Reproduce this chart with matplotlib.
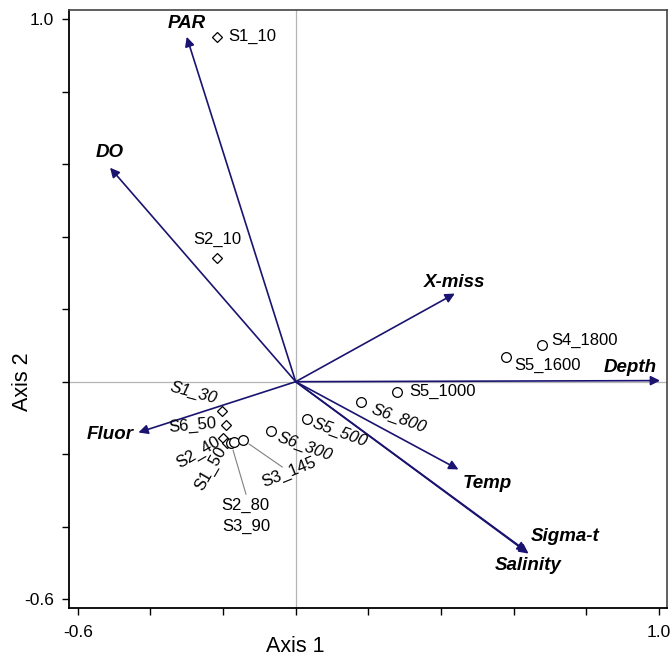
import matplotlib
matplotlib.use("Agg")
import matplotlib.pyplot as plt

plt.rcParams['font.family'] = ['Liberation Sans', 'DejaVu Sans']

# ---- data ----
site_names = ["S1_10", "S2_10", "S1_30", "S6_50", "S2_40", "S1_50", "S2_80", "S3_90",
              "S3_145", "S6_300", "S5_500", "S6_800", "S5_1000", "S5_1600", "S4_1800"]
site_x = [-0.216, -0.216, -0.203, -0.192, -0.200, -0.189, -0.178, -0.170,
          -0.144, -0.069, 0.030, 0.180, 0.280, 0.578, 0.677]
site_y = [0.951, 0.341, -0.080, -0.120, -0.154, -0.170, -0.170, -0.167,
          -0.161, -0.136, -0.104, -0.057, -0.028, 0.068, 0.101]
site_kind = ["D", "D", "D", "D", "D", "D", "o", "o",
             "o", "o", "o", "o", "o", "o", "o"]

var_names = ["PAR", "DO", "X-miss", "Depth", "Temp", "Sigma-t", "Salinity", "Fluor"]
var_x = [-0.300, -0.511, 0.438, 1.003, 0.448, 0.636, 0.641, -0.433]
var_y = [0.951, 0.590, 0.243, 0.003, -0.242, -0.468, -0.474, -0.140]

tick_vals = [-0.6, -0.4, -0.2, 0.0, 0.2, 0.4, 0.6, 0.8, 1.0]

# ---- label layout (pixel offsets, rotation, italic) ----
site_label_style = {
    "S1_10": (35, 0, 0, False), "S2_10": (0, 19, 0, False), "S1_30": (-28, 18, -15, True),
    "S6_50": (-33, 0, 5, False), "S2_40": (-25, -15, 30, False), "S1_50": (-16, -25, 60, False),
    "S2_80": (14, -62, 0, False), "S3_90": (12, -84, 0, False), "S3_145": (46, -32, 22, False),
    "S6_300": (34, -16, -20, True), "S5_500": (33, -13, -20, True), "S6_800": (38, -16, -20, True),
    "S5_1000": (45, 0, 0, False), "S5_1600": (42, -8, 0, False), "S4_1800": (43, 5, 0, False),
}
leader_end = {"S2_80": (15, -51), "S3_145": (39, -27)}
var_label_off = {
    "PAR": (0, 13), "DO": (0, 15), "X-miss": (0, 11), "Depth": (-30, 13),
    "Temp": (29, -14), "Sigma-t": (38, 15), "Salinity": (0, -12), "Fluor": (-28, -2),
}

arrow_col = "#1a1470"

fig = plt.figure(figsize=(6.7, 6.57), dpi=100)
ax = fig.add_axes([0.103, 0.0746, 0.8925, 0.9102])
ax.set_xlim(-0.624, 1.022)
ax.set_ylim(-0.624, 1.025)

ax.axhline(0, color="#b5b5b5", lw=0.9, zorder=1)
ax.axvline(0, color="#b5b5b5", lw=0.9, zorder=1)

# arrows
for name, vx, vy in zip(var_names, var_x, var_y):
    ax.annotate("", xy=(vx, vy), xytext=(0, 0),
                arrowprops=dict(arrowstyle="-|>", color=arrow_col, lw=1.2,
                                mutation_scale=14, shrinkA=0, shrinkB=0),
                zorder=3)
    dx, dy = var_label_off[name]
    ax.annotate(name, xy=(vx, vy), xytext=(dx, dy), textcoords="offset pixels",
                ha="center", va="center", fontsize=13.5, fontweight="bold",
                fontstyle="italic", color="black", zorder=5)

# sites
for name, sx, sy, k in zip(site_names, site_x, site_y, site_kind):
    ms = 5.5 if k == "D" else 7
    ax.plot([sx], [sy], marker=k, ms=ms, mfc="white", mec="black", mew=0.9,
            linestyle="none", zorder=4)
    dx, dy, rot, ital = site_label_style[name]
    ax.annotate(name, xy=(sx, sy), xytext=(dx, dy), textcoords="offset pixels",
                ha="center", va="center", fontsize=12, rotation=rot,
                fontstyle="italic" if ital else "normal",
                rotation_mode="anchor", zorder=5)
    if name in leader_end:
        ex, ey = leader_end[name]
        ax.annotate("", xy=(sx, sy), xytext=(ex, ey), textcoords="offset pixels",
                    arrowprops=dict(arrowstyle="-", color="#808080", lw=0.8,
                                    shrinkA=0, shrinkB=5), zorder=2)

ax.set_xticks(tick_vals)
ax.set_yticks(tick_vals)
ax.set_xticklabels(["-0.6"] + [""] * 7 + ["1.0"])
ax.set_yticklabels(["-0.6"] + [""] * 7 + ["1.0"])
ax.tick_params(direction="out", length=5, width=1, labelsize=12.5, color="black")
ax.tick_params(axis="x", pad=7)
ax.tick_params(axis="y", pad=6)

for side in ["left", "bottom"]:
    ax.spines[side].set_linewidth(1.3)
    ax.spines[side].set_color("black")
for side in ["top", "right"]:
    ax.spines[side].set_linewidth(1.2)
    ax.spines[side].set_color("#444444")

ax.set_xlabel("Axis 1", fontsize=15.5)
ax.set_ylabel("Axis 2", fontsize=15.5)
ax.xaxis.set_label_coords((0 + 0.624) / 1.646, -0.047)
ax.yaxis.set_label_coords(-0.06, (0 + 0.624) / 1.649)

fig.savefig("out.png", dpi=100)
